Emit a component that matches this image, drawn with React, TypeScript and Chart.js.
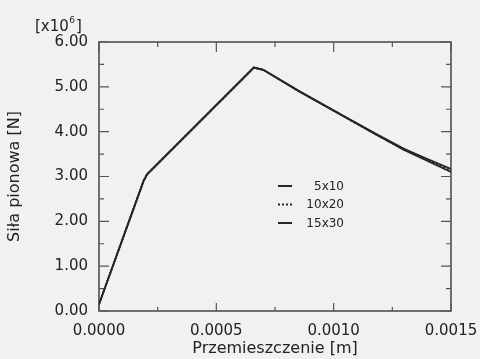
import React, { useEffect, useRef } from "react";
import { Chart, registerables } from "chart.js";

Chart.register(...registerables);

// ---- data ----
const DISPLACEMENT = [0, 0.00019, 0.000205, 0.00066, 0.0007, 0.00085, 0.00107, 0.00118, 0.0013, 0.0014, 0.0015];
const FORCE_5x10 = [0.15, 2.9, 3.05, 5.43, 5.38, 4.91, 4.26, 3.94, 3.59, 3.35, 3.1];
const FORCE_10x20 = [0.15, 2.9, 3.05, 5.43, 5.38, 4.91, 4.26, 3.94, 3.6, 3.37, 3.14];
const FORCE_15x30 = [0.15, 2.9, 3.05, 5.43, 5.38, 4.91, 4.27, 3.95, 3.62, 3.39, 3.17];
const SERIES_LABELS = ["5x10", "10x20", "15x30"];
const SERIES_DASH = [[], [2, 2], []];
const X_TICKS = [0, 0.0005, 0.001, 0.0015];
const Y_TICKS = [0, 1, 2, 3, 4, 5, 6];
const X_TITLE = "Przemieszczenie [m]";
const Y_TITLE = "Siła pionowa [N]";

const FONT = "DejaVu Sans";
const INK = "#222222";
const LINE = "#262626";
const BG = "#f1f1ef";

const toPoints = (ys: number[]) => DISPLACEMENT.map((x, i) => ({ x, y: ys[i] }));

const framePlugin = {
  id: "frameTicks",
  beforeDraw(chart: any) {
    const { ctx, width, height } = chart;
    ctx.save();
    ctx.fillStyle = BG;
    ctx.fillRect(0, 0, width, height);
    ctx.restore();
  },
  beforeDatasetsDraw(chart: any) {
    const { ctx, chartArea, scales } = chart;
    const { left, right, top, bottom } = chartArea;
    const xs = scales.x;
    const ys = scales.y;
    ctx.save();
    ctx.strokeStyle = "#444";
    ctx.lineWidth = 1.5;
    ctx.strokeRect(left, top, right - left, bottom - top);
    ctx.lineWidth = 1.2;
    ctx.strokeStyle = "#555";
    ctx.beginPath();
    for (let i = 0; i < Y_TICKS.length; i++) {
      const py = ys.getPixelForValue(Y_TICKS[i]);
      ctx.moveTo(left, py); ctx.lineTo(left + 10, py);
      ctx.moveTo(right, py); ctx.lineTo(right - 10, py);
      if (i < Y_TICKS.length - 1) {
        const pm = ys.getPixelForValue((Y_TICKS[i] + Y_TICKS[i + 1]) / 2);
        ctx.moveTo(left, pm); ctx.lineTo(left + 5, pm);
        ctx.moveTo(right, pm); ctx.lineTo(right - 5, pm);
      }
    }
    for (let i = 0; i < X_TICKS.length; i++) {
      const px = xs.getPixelForValue(X_TICKS[i]);
      ctx.moveTo(px, bottom); ctx.lineTo(px, bottom - 8);
      ctx.moveTo(px, top); ctx.lineTo(px, top + 10);
      if (i < X_TICKS.length - 1) {
        const pm = xs.getPixelForValue((X_TICKS[i] + X_TICKS[i + 1]) / 2);
        ctx.moveTo(pm, bottom); ctx.lineTo(pm, bottom - 4);
        ctx.moveTo(pm, top); ctx.lineTo(pm, top + 5);
      }
    }
    ctx.stroke();
    ctx.restore();
  },
  afterDraw(chart: any) {
    const { ctx } = chart;
    ctx.save();
    ctx.fillStyle = INK;
    ctx.textBaseline = "alphabetic";
    ctx.textAlign = "left";
    ctx.font = `15px "${FONT}"`;
    const base = "[x10";
    ctx.fillText(base, 35, 31);
    let x = 35 + ctx.measureText(base).width + 0.5;
    ctx.font = `9px "${FONT}"`;
    ctx.fillText("6", x, 23);
    x += ctx.measureText("6").width + 1;
    ctx.font = `15px "${FONT}"`;
    ctx.fillText("]", x, 31);

    const rows = [186, 204.5, 223];
    chart.data.datasets.forEach((ds: any, i: number) => {
      const y = rows[i];
      ctx.strokeStyle = ds.borderColor;
      ctx.lineWidth = 2;
      ctx.setLineDash(ds.borderDash || []);
      ctx.beginPath();
      ctx.moveTo(278, y);
      ctx.lineTo(292, y);
      ctx.stroke();
      ctx.setLineDash([]);
      ctx.font = `12px "${FONT}"`;
      ctx.textAlign = "right";
      ctx.textBaseline = "middle";
      ctx.fillStyle = INK;
      ctx.fillText(ds.label, 344, y + 0.5);
    });
    ctx.restore();
  },
};

export default function App() {
  const ref = useRef<HTMLCanvasElement | null>(null);

  useEffect(() => {
    if (!ref.current) return;
    const series = [FORCE_5x10, FORCE_10x20, FORCE_15x30];
    const chart = new Chart(ref.current, {
      type: "line",
      data: {
        datasets: series.map((s, i) => ({
          label: SERIES_LABELS[i],
          data: toPoints(s),
          borderColor: LINE,
          borderWidth: 1.8,
          borderDash: SERIES_DASH[i],
          pointRadius: 0,
          fill: false,
          tension: 0,
        })),
      },
      options: {
        animation: false,
        responsive: false,
        devicePixelRatio: 1,
        layout: { padding: { top: 42, right: 29, left: 0, bottom: 0 } },
        plugins: { legend: { display: false }, tooltip: { enabled: false } },
        scales: {
          x: {
            type: "linear",
            min: 0,
            max: 0.0015,
            afterBuildTicks: (scale: any) => {
              scale.ticks = X_TICKS.map((v) => ({ value: v }));
            },
            afterFit: (scale: any) => {
              scale.height = 48;
              scale.paddingLeft = 0;
              scale.paddingRight = 0;
            },
            grid: { display: false, drawTicks: false },
            border: { display: false },
            ticks: {
              padding: 11,
              color: INK,
              font: { family: FONT, size: 15 },
              maxRotation: 0,
              callback: (v: any) => Number(v).toFixed(4),
            },
            title: {
              display: true,
              text: X_TITLE,
              color: INK,
              font: { family: FONT, size: 16 },
              padding: { top: 0, bottom: 1 },
            },
          },
          y: {
            type: "linear",
            min: 0,
            max: 6,
            afterBuildTicks: (scale: any) => {
              scale.ticks = Y_TICKS.map((v) => ({ value: v }));
            },
            afterFit: (scale: any) => {
              scale.width = 99;
              scale.paddingTop = 0;
              scale.paddingBottom = 0;
            },
            grid: { display: false, drawTicks: false },
            border: { display: false },
            ticks: {
              padding: 11,
              color: INK,
              font: { family: FONT, size: 15 },
              callback: (v: any) => Number(v).toFixed(2),
            },
            title: {
              display: true,
              text: Y_TITLE,
              color: INK,
              font: { family: FONT, size: 16 },
              padding: { top: 5, bottom: 0 },
            },
          },
        },
      },
      plugins: [framePlugin],
    } as any);
    return () => chart.destroy();
  }, []);

  return (
    <canvas
      ref={ref}
      width={480}
      height={359}
      style={{ position: "fixed", left: 0, top: 0, width: 480, height: 359 }}
    />
  );
}
